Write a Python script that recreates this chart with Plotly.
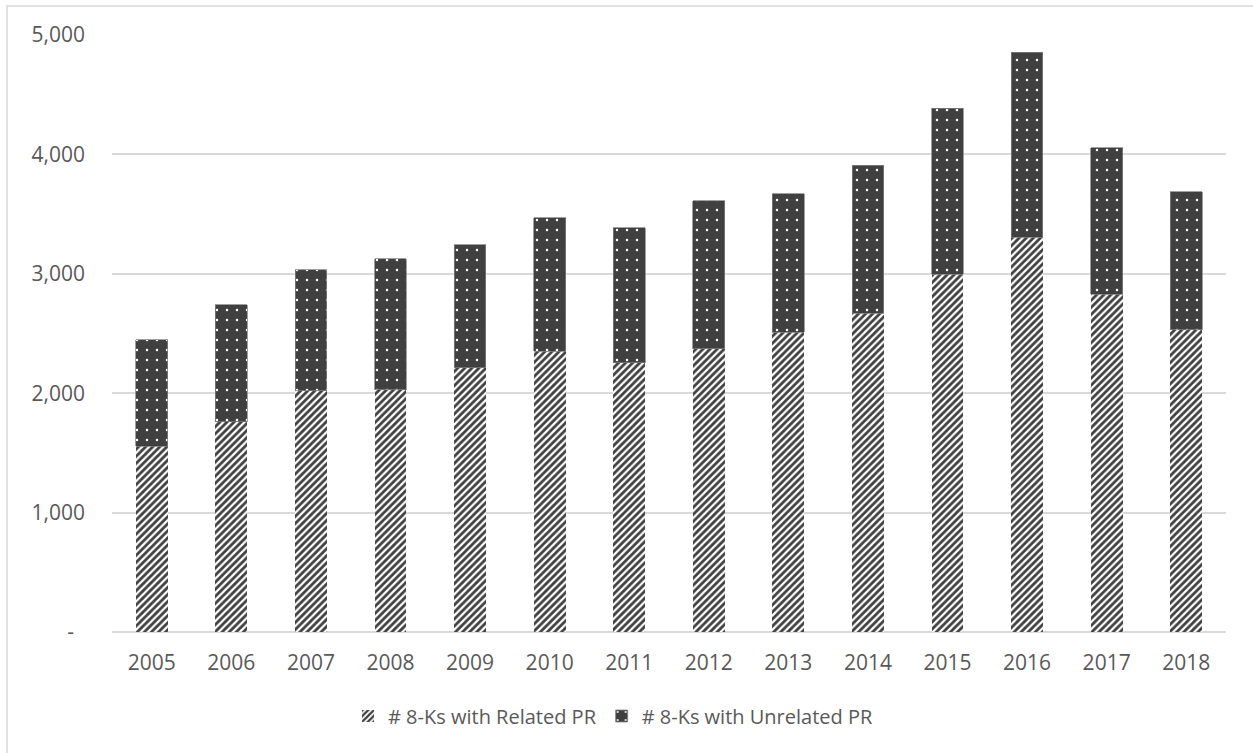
import plotly.graph_objects as go

# Annual counts of 8-K filings, split by whether a related press release was issued
years = ["2005", "2006", "2007", "2008", "2009", "2010", "2011",
         "2012", "2013", "2014", "2015", "2016", "2017", "2018"]
related_pr = [1555, 1762, 2021, 2029, 2213, 2350, 2253,
              2372, 2512, 2671, 2997, 3307, 2830, 2531]
unrelated_pr = [893, 979, 1012, 1096, 1032, 1119, 1132,
                1239, 1158, 1238, 1389, 1548, 1227, 1158]

y_ticks = [0, 1000, 2000, 3000, 4000, 5000]
y_tick_text = ["-\u00a0\u00a0", "1,000", "2,000", "3,000", "4,000", "5,000"]

DARK = "#404040"
TEXT = "#595959"
GRID = "#d9d9d9"
FONT = "Open Sans"

fig = go.Figure()
fig.add_trace(go.Bar(
    x=years, y=related_pr, name="# 8-Ks with Related PR",
    marker=dict(
        color="white",
        line=dict(width=0),
        pattern=dict(shape="/", fgcolor=DARK, bgcolor="white",
                     size=5, solidity=0.55, fillmode="replace"),
    ),
))
fig.add_trace(go.Bar(
    x=years, y=unrelated_pr, name="# 8-Ks with Unrelated PR",
    marker=dict(
        color=DARK,
        line=dict(width=0.75, color="#808080"),
        pattern=dict(shape=".", fgcolor="white", bgcolor=DARK,
                     size=10, solidity=0.05, fillmode="replace"),
    ),
))

plot_left, plot_right, plot_top, plot_bottom = 112, 1226, 35, 632
pw = plot_right - plot_left
ph = plot_bottom - plot_top

fig.update_layout(
    width=1253, height=753,
    barmode="stack", bargap=0.6,
    paper_bgcolor="white", plot_bgcolor="white",
    margin=dict(l=plot_left, r=1253 - plot_right, t=plot_top, b=753 - plot_bottom),
    font=dict(family=FONT, color=TEXT, size=21),
    showlegend=True,
    legend=dict(
        orientation="h", x=(348 - plot_left) / pw, xanchor="left",
        y=(plot_bottom - 716) / ph, yanchor="middle",
        font=dict(family=FONT, size=20, color=TEXT),
        itemwidth=30, traceorder="normal",
    ),
    xaxis=dict(
        showgrid=False, showline=False, ticks="",
        tickfont=dict(family=FONT, size=21, color=TEXT),
        ticklabelstandoff=16,
    ),
    yaxis=dict(
        range=[0, 5000], tickvals=y_ticks, ticktext=y_tick_text,
        showgrid=True, gridcolor=GRID, gridwidth=1.5,
        zeroline=True, zerolinecolor=GRID, zerolinewidth=1.5,
        showline=False, ticks="",
        tickfont=dict(family=FONT, size=21, color=TEXT),
        ticklabelstandoff=26,
    ),
    shapes=[dict(
        type="rect", xref="paper", yref="paper",
        x0=(7 - plot_left) / pw, x1=(1270 - plot_left) / pw,
        y0=(plot_bottom - 770) / ph, y1=(plot_bottom - 6) / ph,
        line=dict(color=GRID, width=1.5), fillcolor="rgba(0,0,0,0)", layer="below",
    )],
)

fig.write_html("out.html")
